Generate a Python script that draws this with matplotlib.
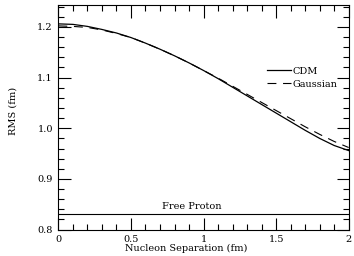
import matplotlib
matplotlib.use("Agg")
import matplotlib.pyplot as plt
from matplotlib.ticker import MultipleLocator

# separation (fm) and rms radius (fm)
sep = [0.0, 0.1, 0.2, 0.3, 0.4, 0.5, 0.6, 0.7, 0.8, 0.9, 1.0,
       1.1, 1.2, 1.3, 1.4, 1.5, 1.6, 1.7, 1.8, 1.9, 2.0]
rms_cdm = [1.206, 1.205, 1.201, 1.195, 1.188, 1.179, 1.168, 1.156, 1.143, 1.129, 1.114,
           1.098, 1.081, 1.064, 1.047, 1.030, 1.013, 0.996, 0.980, 0.966, 0.956]
rms_gauss = [1.202, 1.201, 1.199, 1.194, 1.187, 1.179, 1.168, 1.156, 1.143, 1.129, 1.114,
             1.099, 1.083, 1.067, 1.051, 1.035, 1.019, 1.003, 0.988, 0.974, 0.962]
free_proton = 0.831

plt.rcParams['font.family'] = ['DejaVu Serif']
plt.rcParams['font.size'] = 7

fig = plt.figure(figsize=(3.54, 2.56), dpi=100)
ax = fig.add_axes([0.165, 0.103, 0.82, 0.877])

ax.plot(sep, rms_cdm, color='black', lw=0.9, label='CDM')
ax.plot(sep, rms_gauss, color='black', lw=0.8, ls=(0, (8, 6)), label='Gaussian')
ax.axhline(free_proton, color='black', lw=0.8)
ax.text(0.92, free_proton + 0.006, 'Free Proton', ha='center', va='bottom')

ax.set_xlim(0, 2)
ax.set_ylim(0.8, 1.243)
ax.xaxis.set_major_locator(MultipleLocator(0.5))
ax.xaxis.set_minor_locator(MultipleLocator(0.1))
ax.yaxis.set_major_locator(MultipleLocator(0.1))
ax.yaxis.set_minor_locator(MultipleLocator(0.02))
ax.xaxis.set_major_formatter(plt.FuncFormatter(lambda v, p: '%g' % v))
ax.yaxis.set_major_formatter(plt.FuncFormatter(lambda v, p: '%.1f' % v))
ax.tick_params(which='both', direction='in', top=True, right=True, width=0.8)
ax.tick_params(which='major', length=9, pad=4)
ax.tick_params(which='minor', length=4)
for s in ax.spines.values():
    s.set_linewidth(0.8)

ax.set_xlabel('Nucleon Separation (fm)', labelpad=2)
ax.xaxis.set_label_coords(0.44, -0.065)
ax.set_ylabel('RMS (fm)')
ax.yaxis.set_label_coords(-0.14, 0.53)

ax.legend(loc='upper left', bbox_to_anchor=(0.69, 0.765), frameon=False,
          handlelength=2.4, handletextpad=0.2, labelspacing=0.4, fontsize=7)

fig.savefig('out.png', dpi=100)
